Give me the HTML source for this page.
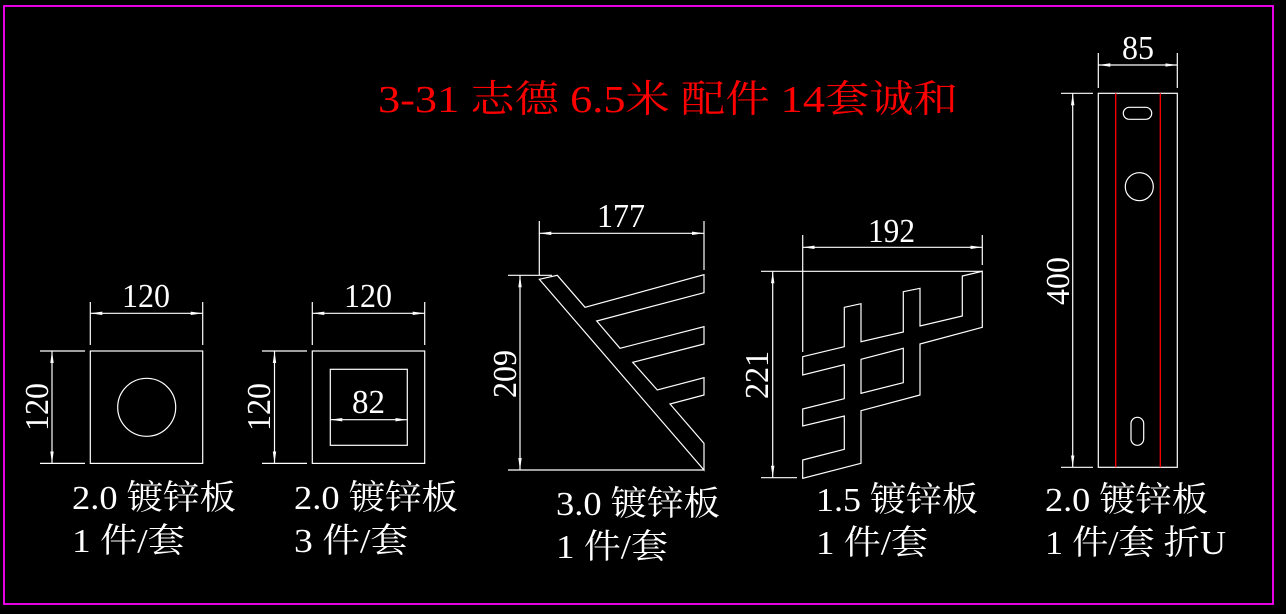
<!DOCTYPE html>
<html><head><meta charset="utf-8"><style>
html,body{margin:0;padding:0;background:#000;}
svg{display:block;}
text{font-family:"Liberation Serif","Noto Serif CJK SC",serif;fill:#fff;}
</style></head><body>
<svg width="1286" height="614" viewBox="0 0 1286 614" xmlns="http://www.w3.org/2000/svg">
<defs>
<marker id="a" viewBox="0 0 12 4" refX="12" refY="2" markerWidth="12" markerHeight="4" markerUnits="userSpaceOnUse" orient="auto-start-reverse">
<path d="M12,2 L0,0.3 L0,3.7 Z" fill="#fff"/>
</marker>
</defs>
<rect x="0" y="0" width="1286" height="614" fill="#000"/>
<rect x="4" y="6" width="1269" height="598" fill="none" stroke="#ff00ff" stroke-width="1.8"/>

<text x="378" y="112" style="fill:#f00" font-size="38" textLength="580" lengthAdjust="spacingAndGlyphs">3-31 志德 6.5米 配件 14套诚和</text>

<g stroke="#fff" stroke-width="1.2" fill="none">
<rect x="90.3" y="351" width="112.4" height="112.4"/>
<circle cx="146.7" cy="407.3" r="29"/>
<line x1="90.3" y1="302" x2="90.3" y2="345"/><line x1="202.7" y1="302" x2="202.7" y2="345"/>
<line x1="90.3" y1="313.3" x2="202.7" y2="313.3" marker-start="url(#a)" marker-end="url(#a)"/>
<line x1="40" y1="351" x2="85" y2="351"/><line x1="40" y1="463.4" x2="85" y2="463.4"/>
<line x1="52" y1="351" x2="52" y2="463.4" marker-start="url(#a)" marker-end="url(#a)"/>

<rect x="312.3" y="351" width="112.4" height="112.4"/>
<rect x="330.3" y="369.3" width="77" height="76"/>
<line x1="312.3" y1="302" x2="312.3" y2="345"/><line x1="424.7" y1="302" x2="424.7" y2="345"/>
<line x1="312.3" y1="313.3" x2="424.7" y2="313.3" marker-start="url(#a)" marker-end="url(#a)"/>
<line x1="330.3" y1="419.7" x2="407.3" y2="419.7" marker-start="url(#a)" marker-end="url(#a)"/>
<line x1="262" y1="351" x2="307" y2="351"/><line x1="262" y1="463.4" x2="307" y2="463.4"/>
<line x1="274.5" y1="351" x2="274.5" y2="463.4" marker-start="url(#a)" marker-end="url(#a)"/>

<polygon points="539.3,279.3 557.3,275.3 585,307.3 704,274.7 704,292.7 596.7,321 620,348.3 704,326.7 704,344 632.7,362.3 657.3,390 704,377.7 704,395 670,404 704,443.3 704,470"/>
<line x1="539.3" y1="221" x2="539.3" y2="275"/><line x1="704" y1="221" x2="704" y2="270"/>
<line x1="539.3" y1="233.3" x2="704" y2="233.3" marker-start="url(#a)" marker-end="url(#a)"/>
<line x1="508" y1="275.3" x2="552" y2="275.3"/><line x1="508" y1="470" x2="704" y2="470"/>
<line x1="520" y1="275.3" x2="520" y2="470" marker-start="url(#a)" marker-end="url(#a)"/>

<polygon points="802.7,356.7 844.3,346.7 844.3,307.3 861,303.7 861,341.7 903.3,332 903.3,291.7 920,288.3 920,326 962.3,316 962.3,276 982.3,271.3 982.3,327.3 920,344 920,395 861,410.7 861,463.3 802.7,478.3 802.7,460 844.3,449.3 844.3,416 802.7,426 802.7,409 844.3,398.7 844.3,364.7 802.7,375"/>
<polygon points="861,359.3 903.3,348.3 903.3,382.7 861,393.3"/>
<line x1="802.7" y1="235" x2="802.7" y2="352"/><line x1="982.3" y1="235" x2="982.3" y2="265"/>
<line x1="802.7" y1="247.3" x2="982.3" y2="247.3" marker-start="url(#a)" marker-end="url(#a)"/>
<line x1="761" y1="271.3" x2="982.3" y2="271.3"/><line x1="761" y1="477.7" x2="797" y2="477.7"/>
<line x1="772.7" y1="271.3" x2="772.7" y2="477.7" marker-start="url(#a)" marker-end="url(#a)"/>

<rect x="1098.3" y="93.3" width="79" height="374"/>
<rect x="1123.3" y="107.3" width="28.4" height="12" rx="6"/>
<circle cx="1139.3" cy="186.7" r="14"/>
<rect x="1131" y="417.3" width="12.7" height="28" rx="6.3"/>
<line x1="1098.3" y1="53" x2="1098.3" y2="88"/><line x1="1177.3" y1="53" x2="1177.3" y2="88"/>
<line x1="1098.3" y1="65" x2="1177.3" y2="65" marker-start="url(#a)" marker-end="url(#a)"/>
<line x1="1061" y1="93.3" x2="1093" y2="93.3"/><line x1="1061" y1="467.3" x2="1093" y2="467.3"/>
<line x1="1072.7" y1="93.3" x2="1072.7" y2="467.3" marker-start="url(#a)" marker-end="url(#a)"/>
</g>
<line x1="1115.7" y1="93.3" x2="1115.7" y2="467.3" stroke="#f00" stroke-width="1.3"/>
<line x1="1160.3" y1="93.3" x2="1160.3" y2="467.3" stroke="#f00" stroke-width="1.3"/>

<g font-size="34">
<text x="122" y="307" textLength="48" lengthAdjust="spacingAndGlyphs">120</text>
<text x="344" y="307" textLength="48" lengthAdjust="spacingAndGlyphs">120</text>
<text x="352" y="413" textLength="33" lengthAdjust="spacingAndGlyphs">82</text>
<text transform="translate(48,431) rotate(-90)" textLength="48" lengthAdjust="spacingAndGlyphs">120</text>
<text transform="translate(270,431) rotate(-90)" textLength="48" lengthAdjust="spacingAndGlyphs">120</text>
<text x="597" y="227" textLength="48" lengthAdjust="spacingAndGlyphs">177</text>
<text transform="translate(516,398) rotate(-90)" textLength="48" lengthAdjust="spacingAndGlyphs">209</text>
<text x="868" y="242" textLength="47" lengthAdjust="spacingAndGlyphs">192</text>
<text transform="translate(768,399) rotate(-90)" textLength="48" lengthAdjust="spacingAndGlyphs">221</text>
<text x="1122" y="59" textLength="32" lengthAdjust="spacingAndGlyphs">85</text>
<text transform="translate(1069,305) rotate(-90)" textLength="48" lengthAdjust="spacingAndGlyphs">400</text>
</g>

<g font-size="34">
<text x="72" y="509" textLength="164" lengthAdjust="spacingAndGlyphs">2.0 镀锌板</text>
<text x="72" y="552" textLength="113" lengthAdjust="spacingAndGlyphs">1 件/套</text>
<text x="294" y="509" textLength="164" lengthAdjust="spacingAndGlyphs">2.0 镀锌板</text>
<text x="294" y="552" textLength="114" lengthAdjust="spacingAndGlyphs">3 件/套</text>
<text x="556" y="515" textLength="164" lengthAdjust="spacingAndGlyphs">3.0 镀锌板</text>
<text x="556" y="558" textLength="112" lengthAdjust="spacingAndGlyphs">1 件/套</text>
<text x="816" y="511" textLength="162" lengthAdjust="spacingAndGlyphs">1.5 镀锌板</text>
<text x="816" y="554" textLength="112" lengthAdjust="spacingAndGlyphs">1 件/套</text>
<text x="1045" y="511" textLength="163" lengthAdjust="spacingAndGlyphs">2.0 镀锌板</text>
<text x="1045" y="554" textLength="181" lengthAdjust="spacingAndGlyphs">1 件/套 折U</text>
</g>
</svg>
</body></html>
